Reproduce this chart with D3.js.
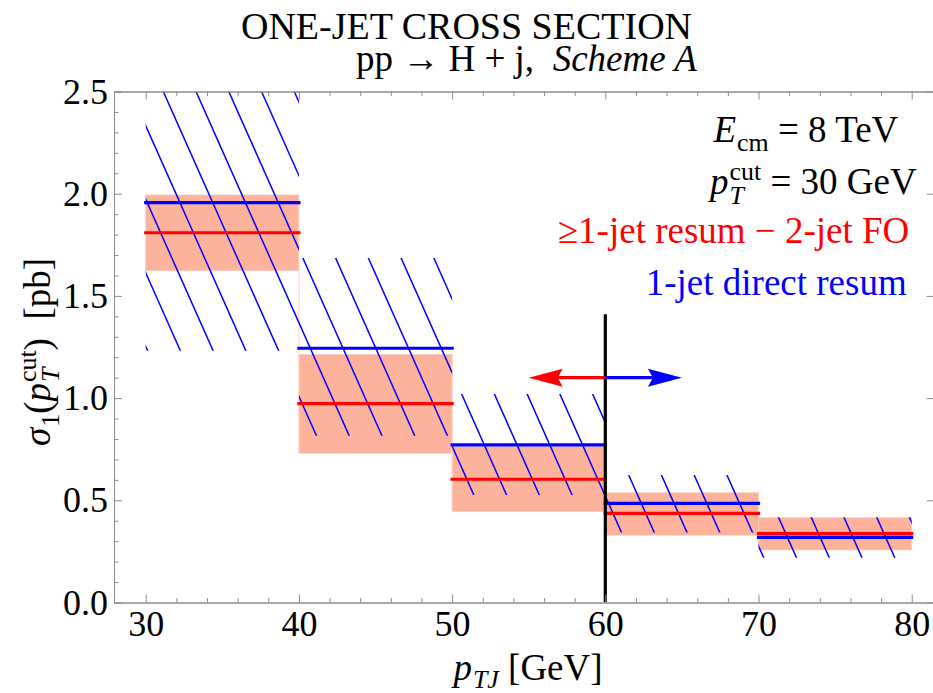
<!DOCTYPE html>
<html>
<head>
<meta charset="utf-8">
<script src="https://cdn.jsdelivr.net/npm/d3@7"></script>
<style>
  body { margin: 0; background: #fff; }
  svg { display: block; }
  text { white-space: pre; }
</style>
</head>
<body>
<svg id="chart" width="933" height="693"></svg>
<script>
// pT bins of the leading jet (GeV)
const binEdges = [30, 40, 50, 60, 70, 80];
// ≥1-jet resummed minus 2-jet fixed order: central value and uncertainty band (pb)
const redCentral = [1.809, 0.973, 0.603, 0.436, 0.337];
const bandLow    = [1.623, 0.730, 0.444, 0.329, 0.257];
const bandHigh   = [1.994, 1.214, 0.765, 0.537, 0.415];
// 1-jet direct resummation: central value and uncertainty band (pb)
const blueCentral = [1.956, 1.244, 0.771, 0.485, 0.319];
const hatchLow    = [1.232, 0.816, 0.526, 0.343, 0.219];
const hatchHigh   = [2.800, 1.685, 1.020, 0.624, 0.417];
// axis ticks
const xTicks = [30, 40, 50, 60, 70, 80];
const yTicks = [0.0, 0.5, 1.0, 1.5, 2.0, 2.5];
// switch-over marker at pT = 60 GeV and the two direction arrows
const cutX = 60, cutTop = 1.41;
const arrowY = 1.10, arrowLeftTip = 55, arrowRightTip = 65;

const FONT = '"Liberation Serif","Times New Roman",serif';
const RED = "#ff0000", BLUE = "#0000ff", BAND = "#fcb29b", AXIS = "#8c8c8c";

const svg = d3.select("#chart");
const x = d3.scaleLinear().domain([27.93, 81.5]).range([114, 934.7]);
const y = d3.scaleLinear().domain([0, 2.5]).range([602.5, 91.5]);
const [X0, X1] = x.range(), [Y0, Y1] = y.range();

// plot-area clip
const defs = svg.append("defs");
defs.append("clipPath").attr("id", "frameClip").append("rect")
  .attr("x", X0).attr("y", Y1).attr("width", X1 - X0).attr("height", Y0 - Y1);

const plot = svg.append("g").attr("clip-path", "url(#frameClip)");
const bins = d3.range(binEdges.length - 1).map(i => ({
  i, lo: binEdges[i], hi: binEdges[i + 1],
  red: redCentral[i], bl: bandLow[i], bh: bandHigh[i],
  blue: blueCentral[i], hl: hatchLow[i], hh: hatchHigh[i]
}));

// filled uncertainty band (red)
plot.append("g").selectAll("rect").data(bins).join("rect")
  .attr("x", d => x(d.lo)).attr("width", d => x(d.hi) - x(d.lo))
  .attr("y", d => y(d.bh)).attr("height", d => y(d.bl) - y(d.bh))
  .attr("fill", BAND).attr("stroke", "#fdd2c5").attr("stroke-width", 0.8);

// thin vertical edges joining neighbouring band steps
plot.append("g").selectAll("line").data(bins.slice(1)).join("line")
  .attr("x1", d => x(d.lo)).attr("x2", d => x(d.lo))
  .attr("y1", d => y(Math.max(bins[d.i - 1].bh, d.bh)))
  .attr("y2", d => y(Math.min(bins[d.i - 1].bl, d.bl)))
  .attr("stroke", "#fdd2c5").attr("stroke-width", 1);

// hatched uncertainty band (blue): one screen-space line family clipped per bin
const hatchSlope = 0.445, hatchSpacing = 32.75, hatchPhase = 24.3;
const hatchG = plot.append("g");
bins.forEach(d => {
  const id = "hatchClip" + d.i;
  const rx0 = x(d.lo), rx1 = x(d.hi), ry0 = y(d.hh), ry1 = y(d.hl);
  defs.append("clipPath").attr("id", id).append("rect")
    .attr("x", rx0).attr("y", ry0).attr("width", rx1 - rx0).attr("height", ry1 - ry0);
  const kMin = Math.floor((rx0 - hatchPhase - hatchSlope * ry1) / hatchSpacing) - 1;
  const kMax = Math.ceil((rx1 - hatchPhase - hatchSlope * ry0) / hatchSpacing) + 1;
  const ks = d3.range(kMin, kMax + 1);
  hatchG.append("g").attr("clip-path", `url(#${id})`)
    .selectAll("line").data(ks).join("line")
    .attr("x1", k => hatchPhase + k * hatchSpacing + hatchSlope * (ry0 - 2))
    .attr("y1", ry0 - 2)
    .attr("x2", k => hatchPhase + k * hatchSpacing + hatchSlope * (ry1 + 2))
    .attr("y2", ry1 + 2)
    .attr("stroke", BLUE).attr("stroke-width", 1.5);
});

// central values
plot.append("g").selectAll("line").data(bins).join("line")
  .attr("x1", d => x(d.lo)).attr("x2", d => x(d.hi))
  .attr("y1", d => y(d.red)).attr("y2", d => y(d.red))
  .attr("stroke", RED).attr("stroke-width", 3.2).attr("stroke-linecap", "square");
plot.append("g").selectAll("line").data(bins).join("line")
  .attr("x1", d => x(d.lo)).attr("x2", d => x(d.hi))
  .attr("y1", d => y(d.blue)).attr("y2", d => y(d.blue))
  .attr("stroke", BLUE).attr("stroke-width", 3.2).attr("stroke-linecap", "square");

// vertical marker
plot.append("line")
  .attr("x1", x(cutX)).attr("x2", x(cutX)).attr("y1", y(0)).attr("y2", y(cutTop))
  .attr("stroke", "#000").attr("stroke-width", 3.2);

// arrows
function arrow(tipVal, color) {
  const tx = x(tipVal), ty = y(arrowY), sx = x(cutX);
  const dir = Math.sign(tx - sx);
  const L = 34, H = 9, N = 29;
  plot.append("line").attr("x1", sx).attr("x2", tx - dir * N).attr("y1", ty).attr("y2", ty)
    .attr("stroke", color).attr("stroke-width", 3.3);
  plot.append("path")
    .attr("d", `M${tx},${ty} L${tx - dir * L},${ty - H} L${tx - dir * N},${ty} L${tx - dir * L},${ty + H} Z`)
    .attr("fill", color);
}
arrow(arrowLeftTip, RED);
arrow(arrowRightTip, BLUE);

// frame with inward ticks on all sides
const fmtY = d3.format(".1f");
const xMinor = d3.range(32, 82, 2).filter(v => v % 10 !== 0);
const yMinor = d3.range(1, 25).map(v => v / 10).filter(v => Math.round(v * 10) % 5 !== 0);
function styleAxis(g) {
  g.selectAll("path.domain").attr("stroke", AXIS).attr("stroke-width", 1);
  g.selectAll(".tick line").attr("stroke", AXIS).attr("stroke-width", 1);
  g.selectAll(".tick text").attr("font-family", FONT).attr("font-size", 36).attr("fill", "#000");
}
const frame = svg.append("g");
frame.append("g").attr("transform", `translate(0,${Y0})`)
  .call(d3.axisBottom(x).tickValues(xTicks).tickFormat(d3.format("d")).tickSizeInner(-8).tickSizeOuter(0).tickPadding(8))
  .call(styleAxis);
frame.append("g").attr("transform", `translate(0,${Y0})`)
  .call(d3.axisBottom(x).tickValues(xMinor).tickFormat("").tickSizeInner(-4.5).tickSizeOuter(0))
  .call(styleAxis);
frame.append("g").attr("transform", `translate(0,${Y1})`)
  .call(d3.axisTop(x).tickValues(xTicks).tickFormat("").tickSizeInner(-8).tickSizeOuter(0))
  .call(styleAxis);
frame.append("g").attr("transform", `translate(0,${Y1})`)
  .call(d3.axisTop(x).tickValues(xMinor).tickFormat("").tickSizeInner(-4.5).tickSizeOuter(0))
  .call(styleAxis);
frame.append("g").attr("transform", `translate(${X0},0)`)
  .call(d3.axisLeft(y).tickValues(yTicks).tickFormat(fmtY).tickSizeInner(-8).tickSizeOuter(0).tickPadding(6))
  .call(styleAxis);
frame.append("g").attr("transform", `translate(${X0},0)`)
  .call(d3.axisLeft(y).tickValues(yMinor).tickFormat("").tickSizeInner(-4.5).tickSizeOuter(0))
  .call(styleAxis);
frame.append("g").attr("transform", `translate(${X1},0)`)
  .call(d3.axisRight(y).tickValues(yTicks).tickFormat("").tickSizeInner(-8).tickSizeOuter(0))
  .call(styleAxis);

// rich text with italics, subscripts and stacked super/subscripts
function measure(str, size, italic) {
  const t = svg.append("text").attr("font-family", FONT).attr("font-size", size)
    .attr("font-style", italic ? "italic" : "normal").text(str);
  const w = t.node().getComputedTextLength();
  t.remove();
  return w;
}
function rich(parent, pieces, px, py, size, anchor, color) {
  let cx = 0, prevStart = 0, prevW = 0;
  const laid = pieces.map(p => {
    const sz = size * (p.sc || 1);
    const w = measure(p.s, sz, p.it);
    let at;
    if (p.stack) { at = prevStart; prevW = Math.max(prevW, w); cx = prevStart + prevW; }
    else { at = cx; prevStart = cx; prevW = w; cx += w + (p.gap || 0); }
    return Object.assign({}, p, { at, sz });
  });
  const off = anchor === "end" ? -cx : anchor === "middle" ? -cx / 2 : 0;
  const t = parent.append("text").attr("font-family", FONT).attr("fill", color || "#000");
  laid.forEach(p => t.append("tspan")
    .attr("x", px + off + p.at).attr("y", py + (p.dy || 0) * size)
    .attr("font-size", p.sz).attr("font-style", p.it ? "italic" : "normal").text(p.s));
  return t;
}

// titles
rich(svg, [{ s: "ONE-JET CROSS SECTION" }], 466.5, 39, 38, "middle");
rich(svg, [{ s: "pp \u2192 H + j,  " }, { s: "Scheme A", it: true }], 356, 71, 37, "start");

// in-plot annotations
rich(svg, [{ s: "E", it: true, gap: 1 }, { s: "cm", sc: 0.7, dy: 0.25 }, { s: " = 8 TeV" }], 898.3, 141.7, 37, "end");
rich(svg, [{ s: "p", it: true, gap: 1 }, { s: "cut", sc: 0.7, dy: -0.38 }, { s: "T", it: true, sc: 0.7, dy: 0.25, stack: true },
           { s: " = 30 GeV" }], 916.7, 194.3, 37, "end");
rich(svg, [{ s: "\u22651-jet resum \u2212 2-jet FO" }], 909.3, 243.3, 37, "end", RED);
rich(svg, [{ s: "1-jet direct resum" }], 906.7, 295, 37, "end", BLUE);

// axis labels
rich(svg, [{ s: "p", it: true, gap: 1 }, { s: "TJ", it: true, sc: 0.7, dy: 0.22 }, { s: " [GeV]" }], 528, 680, 37, "middle");
const yl = svg.append("g").attr("transform", "translate(50,352) rotate(-90)");
rich(yl, [{ s: "\u03c3", it: true, gap: 1 }, { s: "1", sc: 0.7, dy: 0.25 }, { s: "(" },
          { s: "p", it: true, gap: 1 }, { s: "cut", sc: 0.7, dy: -0.38 }, { s: "T", it: true, sc: 0.7, dy: 0.25, stack: true },
          { s: ")  [pb]" }], 0, 0, 37, "middle");
</script>
</body>
</html>
